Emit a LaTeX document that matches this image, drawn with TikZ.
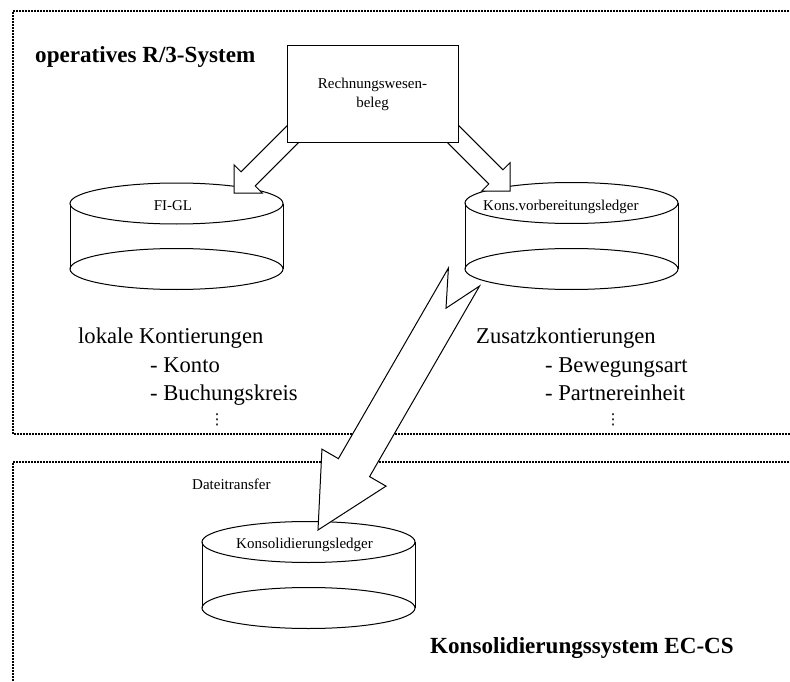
\documentclass[tikz,border=0pt]{standalone}
\usepackage{fontspec}
\setmainfont{Liberation Serif}
\newfontfamily\symfont{DejaVu Sans}
\usetikzlibrary{calc}

% Database cylinder: name, centre x, top centre y, bottom centre y
\newcommand\ledger[4]{%
  \fill[white] (#2-106.5,#3) rectangle (#2+106.5,#4);
  \fill[white] (#2,#4) ellipse [x radius=106.5pt, y radius=20.5pt];
  \fill[white] (#2,#3) ellipse [x radius=106.5pt, y radius=20.5pt];
  \draw[outline] (#2,#4) ellipse [x radius=106.5pt, y radius=20.5pt];
  \draw[outline] (#2,#3) ellipse [x radius=106.5pt, y radius=20.5pt];
  \draw[outline] (#2-106.5,#3) -- (#2-106.5,#4) (#2+106.5,#3) -- (#2+106.5,#4);
  \coordinate (#1) at (#2,#3);
}

% Block arrow: tail, tip, shaft half width, head half width, head length, tail notch depth
\newcommand\fatarrow[6]{%
  \coordinate (fa-h) at ($(#2)!#5!(#1)$);
  \draw[blockarrow]
    ($(#1)!#3!90:(#2)$) -- ($(fa-h)!#3!90:(#2)$) -- ($(fa-h)!#4!90:(#2)$) -- (#2)
    -- ($(fa-h)!#4!-90:(#2)$) -- ($(fa-h)!#3!-90:(#2)$) -- ($(#1)!#3!-90:(#2)$)
    -- ($(#1)!#6!(#2)$) -- cycle;
}

\begin{document}
\begin{tikzpicture}[x=1pt,y=-1pt,
  outline/.style={line width=1pt, line join=miter},
  frame/.style={line width=1.6pt, dash pattern=on 2pt off 1pt},
  blockarrow/.style={outline, fill=white},
  small/.style={font=\fontsize{15}{19}\selectfont, inner sep=0pt},
  medium/.style={font=\fontsize{22.6}{28.5}\selectfont, inner sep=0pt},
  heading/.style={font=\fontsize{23.1}{28}\selectfont\bfseries, inner sep=0pt},
  ellipsis/.style={font=\symfont\fontsize{15}{15}\selectfont, inner sep=0pt},
]
\useasboundingbox (0,0) rectangle (790,682);

% system frames
\draw[frame] (795,11) -| (13,434) -- (795,434);
\draw[frame] (795,462) -| (13,690);

% ledgers
\ledger{figlc}{176.5}{203.5}{269}
\ledger{kvlc}{571.5}{203}{269}
\ledger{klc}{308.5}{542}{608}

% document flow into the two ledgers
\coordinate (belegL) at (301.2,125.8);
\coordinate (figlIn) at (234,193);
\coordinate (belegR) at (442.8,123.8);
\coordinate (kvlIn) at (510,191);
\fatarrow{belegL}{figlIn}{10pt}{20pt}{20pt}{0pt}
\fatarrow{belegR}{kvlIn}{10pt}{20pt}{20pt}{0pt}

\node[draw, outline, fill=white, minimum width=171pt, minimum height=97pt,
      small, align=center] (beleg) at (372.5,94.5) {Rechnungswesen-\\beleg};

% file transfer to consolidation
\coordinate (kvlOut) at (464,277);
\coordinate (klIn) at (318,530);
\fatarrow{kvlOut}{klIn}{18pt}{37pt}{72pt}{36pt}

% labels
\node[heading, anchor=base west] (r3) at (35,63) {operatives R/3-System};
\node[heading, anchor=base west] (ecs) at (430,653) {Konsolidierungssystem EC-CS};

\node[small, anchor=base] (figl) at (173,210) {FI-GL};
\node[small, anchor=base west] (kvl) at (483,211) {Kons.vorbereitungsledger};
\node[small, anchor=base west] (kl) at (236,548) {Konsolidierungsledger};
\node[small, anchor=base west] (dt) at (192,489) {Dateitransfer};

\node[medium, anchor=base west] (lok) at (78,343) {lokale Kontierungen};
\node[medium, anchor=base west] (konto) at (150,372) {- Konto};
\node[medium, anchor=base west] (bukrs) at (150,400) {- Buchungskreis};
\node[ellipsis] (moreL) at (217,420) {⋮};

\node[medium, anchor=base west] (zus) at (476,343) {Zusatzkontierungen};
\node[medium, anchor=base west] (bwa) at (545,372) {- Bewegungsart};
\node[medium, anchor=base west] (pe) at (545,400) {- Partnereinheit};
\node[ellipsis] (moreR) at (613,420) {⋮};
\end{tikzpicture}
\end{document}
